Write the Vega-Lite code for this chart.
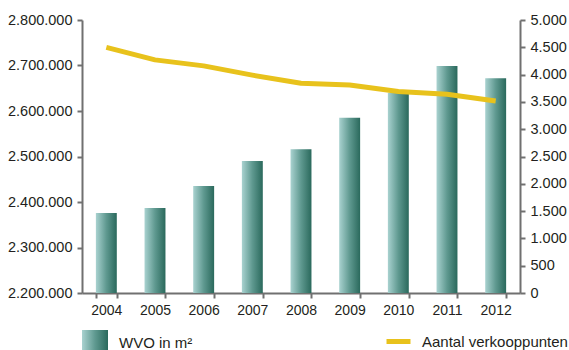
{
  "$schema": "https://vega.github.io/schema/vega-lite/v6.json",
  "width": 438,
  "height": 273,
  "autosize": "none",
  "padding": {"left": 82, "top": 20, "right": 49, "bottom": 57},
  "background": "#ffffff",
  "config": {
    "locale": {"number": {"decimal": ",", "thousands": ".", "grouping": [3], "currency": ["€", ""]}},
    "view": {"stroke": null},
    "font": "Liberation Sans",
    "axis": {
      "labelFont": "Liberation Sans",
      "labelFontSize": 14.5,
      "labelColor": "#231f20",
      "domainColor": "#707070",
      "domainWidth": 2,
      "tickColor": "#707070",
      "tickWidth": 2,
      "tickSize": 5,
      "grid": false,
      "title": null
    },
    "legend": {
      "labelFont": "Liberation Sans",
      "labelFontSize": 15,
      "labelColor": "#231f20",
      "labelLimit": 300,
      "padding": 0,
      "offset": 0
    }
  },
  "data": {
    "values": [
      {"jaar": "2004", "wvo": 2376000, "verkooppunten": 4500},
      {"jaar": "2005", "wvo": 2387000, "verkooppunten": 4270},
      {"jaar": "2006", "wvo": 2435000, "verkooppunten": 4160},
      {"jaar": "2007", "wvo": 2490000, "verkooppunten": 3990},
      {"jaar": "2008", "wvo": 2516000, "verkooppunten": 3840},
      {"jaar": "2009", "wvo": 2585000, "verkooppunten": 3810},
      {"jaar": "2010", "wvo": 2640000, "verkooppunten": 3690},
      {"jaar": "2011", "wvo": 2699000, "verkooppunten": 3640},
      {"jaar": "2012", "wvo": 2672000, "verkooppunten": 3515}
    ]
  },
  "encoding": {
    "x": {
      "field": "jaar",
      "type": "ordinal",
      "scale": {"paddingInner": 0.57, "paddingOuter": 0.285},
      "axis": {"labelAngle": 0, "tickBand": "extent", "labelPadding": 5, "labelFontSize": 14, "tickSize": 5}
    }
  },
  "layer": [
    {
      "mark": {
        "type": "bar",
        "fill": {
          "gradient": "linear",
          "x1": 0, "y1": 0, "x2": 1, "y2": 0,
          "stops": [
            {"offset": 0, "color": "#a9d2d0"},
            {"offset": 0.5, "color": "#5f9990"},
            {"offset": 1, "color": "#2a695c"}
          ]
        }
      },
      "encoding": {
        "y": {
          "field": "wvo",
          "type": "quantitative",
          "scale": {"domain": [2200000, 2800000], "zero": false, "nice": false},
          "axis": {
            "orient": "left",
            "format": ",d",
            "values": [2200000, 2300000, 2400000, 2500000, 2600000, 2700000, 2800000],
            "labelPadding": 5
          }
        },
        "y2": {"datum": 2200000},
        "opacity": {
          "datum": "WVO in m²",
          "type": "nominal",
          "scale": {"range": [1]},
          "legend": {
            "title": null,
            "orient": "none",
            "legendX": -1,
            "legendY": 309,
            "symbolType": "M-1,-1H1V1H-1Z",
            "symbolSize": 676,
            "labelOffset": 10,
            "encoding": {
              "symbols": {
                "update": {
                  "fill": {"value": {
                    "gradient": "linear",
                    "x1": 0, "y1": 0, "x2": 1, "y2": 0,
                    "stops": [
                      {"offset": 0, "color": "#a9d2d0"},
                      {"offset": 0.5, "color": "#5f9990"},
                      {"offset": 1, "color": "#2a695c"}
                    ]
                  }},
                  "opacity": {"value": 1},
                  "strokeWidth": {"value": 0}
                }
              }
            }
          }
        }
      }
    },
    {
      "mark": {"type": "line", "strokeWidth": 5, "strokeCap": "butt", "strokeJoin": "round"},
      "encoding": {
        "y": {
          "field": "verkooppunten",
          "type": "quantitative",
          "scale": {"domain": [0, 5000], "nice": false},
          "axis": {
            "orient": "right",
            "format": ",d",
            "values": [0, 500, 1000, 1500, 2000, 2500, 3000, 3500, 4000, 4500, 5000],
            "labelPadding": 5
          }
        },
        "stroke": {
          "datum": "Aantal verkooppunten",
          "type": "nominal",
          "scale": {"range": ["#e8c21c"]},
          "legend": {
            "title": null,
            "orient": "none",
            "legendX": 302,
            "legendY": 307,
            "symbolType": "stroke",
            "symbolSize": 576,
            "symbolStrokeWidth": 5,
            "labelOffset": 9
          }
        }
      }
    }
  ],
  "resolve": {"scale": {"y": "independent"}}
}
